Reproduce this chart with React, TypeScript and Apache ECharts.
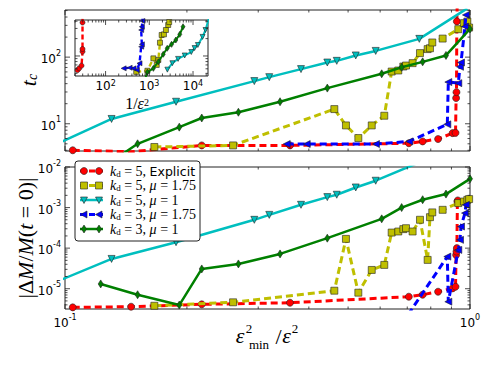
import { useEffect, useRef } from 'react';
import * as echarts from 'echarts';

// ---------- data ----------
// main panels: x = eps_min^2/eps^2, tc (top), |dM/M| (bottom)
const redX = [0.1045, 0.1456, 0.2176, 0.3594, 0.7063, 0.764, 0.834, 0.906, 0.921, 0.924, 0.926, 0.928, 0.931, 0.933];
const redTc = [4.0, 3.8, 4.73, 4.73, 5.1, 5.43, 5.9, 7.24, 7.3, 24.3, 29.8, 344, 900, 1200];
const redDm = [3.47e-6, 3.6e-6, 4.12e-6, 4.51e-6, 6.35e-6, 7.1e-6, 8.43e-6, 1.02e-5, 1.12e-5, 6.8e-5, 8.2e-5, 1.0e-4, 1.41e-3, 1.5e-3];

const yelX = [0.1662, 0.26, 0.4624, 0.494, 0.53, 0.572, 0.6143, 0.6406, 0.6652, 0.6845, 0.695, 0.7216, 0.7525, 0.786, 0.7965, 0.807, 0.856, 0.9357, 0.966, 0.985, 0.995];
const yelTc = [4.48, 4.73, 16.6, 9.44, 6.1, 9.44, 13.2, 60.8, 63, 72.3, 74.8, 81.3, 115, 132, 136, 166, 190, 263, 324, 342, 278];
const yelDm = [3.8e-6, 4.62e-6, 8.93e-6, 1.69e-4, 7.98e-6, 2.9e-5, 3.86e-5, 2.42e-4, 2.57e-4, 2.94e-4, 3.1e-4, 2.57e-4, 5e-4, 5.13e-5, 5.8e-4, 7.6e-4, 8.8e-4, 1.29e-3, 1.41e-3, 1.55e-3, 1.62e-3];

const cyaX = [0.085, 0.1303, 0.188, 0.2934, 0.3194, 0.3826, 0.4443, 0.4688, 0.5223, 0.585, 0.7496, 0.985];
const cyaTc = [3.6, 11.8, 21.4, 43.7, 50.1, 66.1, 83, 88, 106, 124, 188, 540];
const cyaDm = [9.3e-6, 5.42e-5, 1.4e-4, 4.99e-4, 6.6e-4, 1.17e-3, 1.81e-3, 2.07e-3, 3.13e-3, 4.59e-3, 1.3e-2, 4e-2];

const bluX = [0.3527, 0.3952, 0.5859, 0.708, 0.879, 0.884, 0.9357, 0.9447, 0.95, 0.972, 0.977];
const bluTc = [4.96, 4.96, 4.96, 5.43, 9.8, 42.2, 40.7, 71.6, 83, 288, 430];
const bluDm = [1.5e-6, 1.6e-6, 2.0e-6, 2.53e-6, 6.18e-5, 4.78e-6, 9.04e-5, 1.6e-4, 3.4e-4, 7.3e-4, 1.17e-3];

const grnX = [0.1225, 0.1511, 0.1915, 0.2176, 0.268, 0.3396, 0.4443, 0.6053, 0.678, 0.764, 0.8723, 1.0];
const grnTc = [2.1, 5.0, 8.9, 12.2, 14.9, 21.4, 34.3, 56.2, 70.4, 85, 106, 265];
const grnDm = [1.31e-5, 7.1e-6, 3.95e-6, 3.07e-5, 4.08e-5, 7.2e-5, 1.76e-4, 5.27e-4, 1.0e-3, 1.56e-3, 2.15e-3, 5.1e-3];

// inset: x = 1/eps^2, y = tc
const inRedX = [22.9, 24.9, 28.2, 29.7, 29.7, 29.7, 29.9];
const inRedY = [57, 61, 68, 119, 132, 380, 600];
const inYelX = [502, 906, 1240, 1480, 1608, 1755, 1918, 2163, 2400, 2705, 2850];
const inYelY = [53, 55.5, 91, 70, 85, 170, 231, 237, 282, 344, 387];
const inCyaX = [2590, 3370, 4550, 6450, 9130, 10860, 12900, 16500, 19300, 24000];
const inCyaY = [58, 75, 89, 102, 117, 137, 155, 214, 282, 500];
const inBluX = [259, 355, 437, 521, 597, 652, 676, 652, 676, 698, 710];
const inBluY = [61, 62.5, 61, 57, 74.6, 145, 159, 282, 321, 404, 600];
const inGrnX = [800, 906, 1240, 1608, 2084, 2570, 3230, 4040, 4980, 5910];
const inGrnY = [40, 52.7, 61, 79.4, 107, 136, 159, 189, 237, 321];

const legendNames = ['k_d=5, Explicit', 'k_d=5, mu=1.75', 'k_d=5, mu=1', 'k_d=3, mu=1.75', 'k_d=3, mu=1'];
const legendTexts = [
  '{i|k}{sub|d}{n| = 5, }{t|Explicit}',
  '{i|k}{sub|d}{n| = 5, }{i|μ}{n| = 1.75}',
  '{i|k}{sub|d}{n| = 5, }{i|μ}{n| = 1}',
  '{i|k}{sub|d}{n| = 3, }{i|μ}{n| = 1.75}',
  '{i|k}{sub|d}{n| = 3, }{i|μ}{n| = 1}',
];

// ---------- styles ----------
const STY = [
  { color: '#ff0000', dash: true, symbol: 'circle', size: 7, rot: 0, lw: 3 },
  { color: '#bfbf00', dash: true, symbol: 'rect', size: 7, rot: 0, lw: 3 },
  { color: '#00bfbf', dash: false, symbol: 'triangle', size: 7, rot: 180, lw: 2.5 },
  { color: '#0000ff', dash: true, symbol: 'triangle', size: 7, rot: 90, lw: 3 },
  { color: '#008000', dash: false, symbol: 'diamond', size: [5, 8] as any, rot: 0, lw: 2.5 },
];

const MATH = 'Liberation Serif';
const SANS = 'DejaVu Sans';

const zip = (xs: number[], ys: number[]) => xs.map((x, i) => [x, ys[i]]);

const fmtPow = (v: number) => {
  const e = Math.log10(v);
  const r = Math.round(e);
  if (Math.abs(e - r) > 1e-6) return '';
  return `{b|10}{s|${r}}`;
};
const richPow = {
  b: { fontSize: 12, fontFamily: SANS, color: '#000', lineHeight: 16, verticalAlign: 'bottom' },
  s: { fontSize: 8, fontFamily: SANS, color: '#000', lineHeight: 9, verticalAlign: 'top' },
};
const richPowSmall = {
  b: { fontSize: 12, fontFamily: SANS, color: '#000', lineHeight: 13, verticalAlign: 'bottom' },
  s: { fontSize: 8, fontFamily: SANS, color: '#000', lineHeight: 7, verticalAlign: 'top' },
};

const GRIDS = [
  { left: 65, top: 10, width: 405, height: 141 },
  { left: 65, top: 167, width: 405, height: 142 },
  { left: 75, top: 20, width: 133, height: 56 },
];
const XR = [[0.1, 1], [0.1, 1], [20, 22000]];
const YR = [[3.9, 510], [3.16e-6, 1e-2], [45, 420]];

function logTicks(min: number, max: number) {
  const out: { v: number; major: boolean }[] = [];
  for (let e = Math.floor(Math.log10(min)) - 1; e <= Math.ceil(Math.log10(max)); e++) {
    for (let m = 1; m <= 9; m++) {
      const v = m * Math.pow(10, e);
      if (v >= min * 0.9999 && v <= max * 1.0001) out.push({ v, major: m === 1 });
    }
  }
  return out;
}

export default function App() {
  const ref = useRef<HTMLDivElement>(null);
  useEffect(() => {
    if (!ref.current) return;
    const chart = echarts.init(ref.current, null, { renderer: 'svg' });
    const series: any[] = [];
    const sets = [
      [redX, redTc, redDm, inRedX, inRedY],
      [yelX, yelTc, yelDm, inYelX, inYelY],
      [cyaX, cyaTc, cyaDm, inCyaX, inCyaY],
      [bluX, bluTc, bluDm, inBluX, inBluY],
      [grnX, grnTc, grnDm, inGrnX, inGrnY],
    ];
    sets.forEach((s, i) => {
      const st = STY[i];
      const mk = (data: number[][], gi: number, small: boolean) => ({
        type: 'line',
        name: legendNames[i],
        xAxisIndex: gi,
        yAxisIndex: gi,
        data,
        clip: true,
        symbol: st.symbol,
        symbolSize: small ? (Array.isArray(st.size) ? [4, 6] : 5) : st.size,
        symbolRotate: st.rot,
        showAllSymbol: true,
        lineStyle: { color: st.color, width: small ? st.lw * 0.8 : st.lw, type: st.dash ? (small ? [5, 3] : [7, 4]) : 'solid' },
        itemStyle: { color: st.color, borderColor: '#222', borderWidth: 0.6 },
        emphasis: { disabled: true },
        z: (small ? 10 : 2) + i * 0.1,
      });
      series.push(mk(zip(s[0], s[1]), 0, false));
      series.push(mk(zip(s[0], s[2]), 1, false));
      series.push(mk(zip(s[3], s[4]), 2, true));
    });

    const axisBase = {
      type: 'log',
      logBase: 10,
      axisLine: { show: false },
      axisTick: { show: false },
      splitLine: { show: false },
      minorTick: { show: false },
    };

    chart.setOption({
      animation: false,
      backgroundColor: '#fff',
      grid: GRIDS.map((g, i) => ({
        ...g,
        show: true,
        borderColor: '#222',
        borderWidth: 1,
        backgroundColor: '#fff',
        z: i === 2 ? 5 : 0,
      })),
      xAxis: GRIDS.map((_, i) => ({
        ...axisBase,
        gridIndex: i,
        min: XR[i][0],
        max: XR[i][1],
        axisLabel: {
          show: i !== 0,
          formatter: fmtPow,
          rich: i === 2 ? richPowSmall : richPow,
          margin: i === 2 ? 3 : 4,
        },
        z: i === 2 ? 6 : 0,
      })),
      yAxis: GRIDS.map((_, i) => ({
        ...axisBase,
        gridIndex: i,
        min: YR[i][0],
        max: YR[i][1],
        axisLabel: {
          show: i !== 2,
          formatter: fmtPow,
          rich: richPow,
          margin: 4,
        },
      })),
      series,
    });

    // ticks (matplotlib style, inward on all four sides)
    const els: any[] = [];
    GRIDS.forEach((g, gi) => {
      const L = g.left, R = g.left + g.width, T = g.top, B = g.top + g.height;
      logTicks(XR[gi][0], XR[gi][1]).forEach(({ v, major }) => {
        const px = chart.convertToPixel({ xAxisIndex: gi } as any, v) as number;
        const len = major ? 5 : 2.5;
        [[B, B - len], [T, T + len]].forEach(([a, b]) =>
          els.push({ type: 'line', silent: true, z: 60, shape: { x1: px, y1: a, x2: px, y2: b }, style: { stroke: '#222', lineWidth: 0.8 } })
        );
      });
      logTicks(YR[gi][0], YR[gi][1]).forEach(({ v, major }) => {
        const py = chart.convertToPixel({ yAxisIndex: gi } as any, v) as number;
        const len = major ? 5 : 2.5;
        [[L, L + len], [R, R - len]].forEach(([a, b]) =>
          els.push({ type: 'line', silent: true, z: 60, shape: { x1: a, y1: py, x2: b, y2: py }, style: { stroke: '#222', lineWidth: 0.8 } })
        );
      });
    });

    // legend
    const lgX = 75, lgY = 161, lgW = 125, lgH = 80;
    els.push({ type: 'rect', silent: true, z: 80, shape: { x: lgX, y: lgY, width: lgW, height: lgH, r: 3 }, style: { fill: '#fff', stroke: '#222', lineWidth: 1 } });
    const rowY = [171, 185.5, 200, 214.5, 229];
    const richLg = {
      i: { fontFamily: MATH, fontStyle: 'italic', fontSize: 14, color: '#000' },
      n: { fontFamily: MATH, fontSize: 14, color: '#000' },
      sub: { fontFamily: MATH, fontSize: 9, color: '#000', verticalAlign: 'bottom', lineHeight: 12 },
      t: { fontFamily: SANS, fontSize: 12.5, color: '#000' },
    };
    rowY.forEach((y, i) => {
      const st = STY[i];
      els.push({ type: 'line', silent: true, z: 81, shape: { x1: 80, y1: y, x2: 103, y2: y }, style: { stroke: st.color, lineWidth: st.lw, lineDash: st.dash ? [6, 3] : null } });
      [84, 99].forEach((cx) => {
        const base = { silent: true, z: 82, style: { fill: st.color, stroke: '#222', lineWidth: 0.6 } };
        if (i === 0) els.push({ ...base, type: 'circle', shape: { cx, cy: y, r: 3.5 } });
        else if (i === 1) els.push({ ...base, type: 'rect', shape: { x: cx - 3.5, y: y - 3.5, width: 7, height: 7 } });
        else if (i === 2) els.push({ ...base, type: 'polygon', shape: { points: [[cx - 3.5, y - 3], [cx + 3.5, y - 3], [cx, y + 3.5]] } });
        else if (i === 3) els.push({ ...base, type: 'polygon', shape: { points: [[cx - 3.5, y], [cx + 3, y - 3.5], [cx + 3, y + 3.5]] } });
        else els.push({ ...base, type: 'polygon', shape: { points: [[cx, y - 4], [cx + 2.5, y], [cx, y + 4], [cx - 2.5, y]] } });
      });
      els.push({ type: 'text', silent: true, z: 83, x: 110, y, style: { text: legendTexts[i], rich: richLg, verticalAlign: 'middle', align: 'left' } });
    });

    // axis titles
    const richT = {
      i: { fontFamily: MATH, fontStyle: 'italic', fontSize: 22, color: '#000' },
      n: { fontFamily: MATH, fontSize: 22, color: '#000' },
      sub: { fontFamily: MATH, fontStyle: 'italic', fontSize: 14, color: '#000', verticalAlign: 'bottom', lineHeight: 18 },
    };
    els.push({ type: 'text', silent: true, z: 70, x: 28, y: 80, rotation: Math.PI / 2, style: { text: '{i|t}{sub|c}', rich: richT, align: 'center', verticalAlign: 'middle' } });
    els.push({ type: 'text', silent: true, z: 70, x: 25, y: 238, rotation: Math.PI / 2, style: { text: '{n||Δ}{i|M}{n|/}{i|M}{n|(}{i|t}{n| = 0)|}', rich: richT, align: 'center', verticalAlign: 'middle' } });

    const t = (text: string, x: number, y: number, size: number, italic: boolean) =>
      els.push({ type: 'text', silent: true, z: 70, x, y, style: { text, fontFamily: MATH, fontStyle: italic ? 'italic' : 'normal', fontSize: size, fill: '#000', align: 'center', verticalAlign: 'middle' } });
    // x title: eps^2_min / eps^2
    t('ε', 240, 335, 22, true);
    t('2', 249, 328, 13, false);
    t('min', 259, 344, 13, false);
    t('/', 278.5, 336, 22, false);
    t('ε', 286.5, 335, 22, true);
    t('2', 295, 328, 13, false);
    // inset x title: 1/eps^2
    const richI = {
      n: { fontFamily: MATH, fontSize: 16, color: '#000', lineHeight: 14, verticalAlign: 'bottom' },
      i: { fontFamily: MATH, fontStyle: 'italic', fontSize: 16, color: '#000', lineHeight: 14, verticalAlign: 'bottom' },
      s: { fontFamily: MATH, fontSize: 10, color: '#000', lineHeight: 8, verticalAlign: 'top' },
    };
    els.push({ type: 'text', silent: true, z: 70, x: 137, y: 104, style: { text: '{n|1/}{i|ε}{s|2}', rich: richI, align: 'center', verticalAlign: 'middle' } });

    chart.setOption({ graphic: { elements: els } });

    return () => chart.dispose();
  }, []);
  return <div ref={ref} style={{ width: 491, height: 368, position: 'absolute', left: 0, top: 0 }} />;
}
